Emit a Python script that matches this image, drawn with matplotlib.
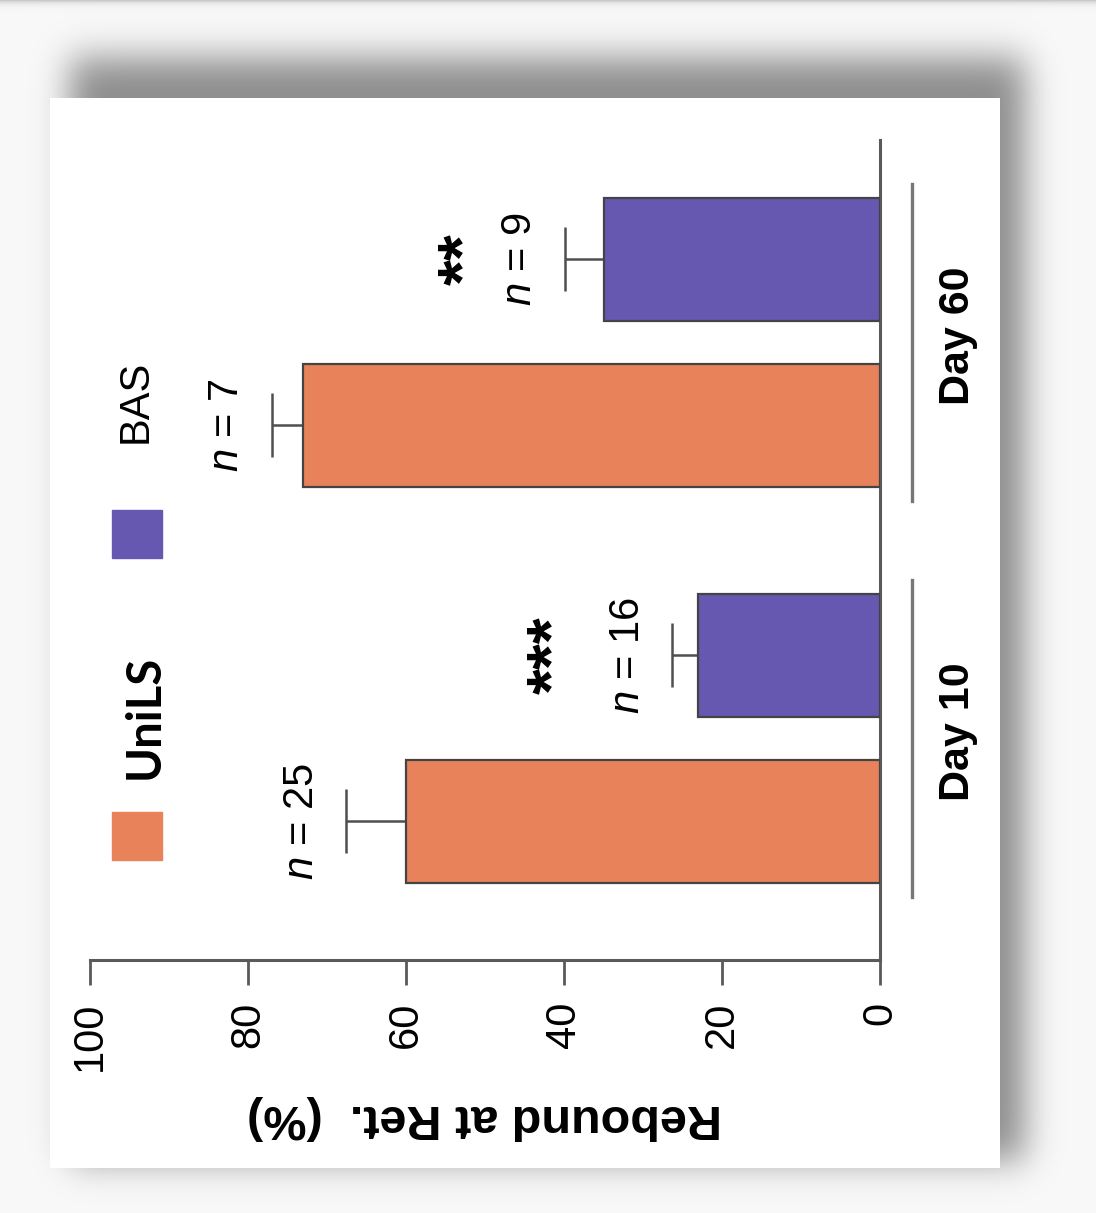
import math

import numpy as np
import matplotlib
matplotlib.use("Agg")
import matplotlib.pyplot as plt
from matplotlib.patches import Rectangle

plt.rcParams["font.family"] = ["Liberation Sans", "DejaVu Sans"]
plt.rcParams["mathtext.fontset"] = "custom"
plt.rcParams["mathtext.it"] = "Liberation Sans:italic"
plt.rcParams["mathtext.rm"] = "Liberation Sans"

# ------------------------------------------------------------------
# data: rebound at retrieval (%), mean + SEM, per time point
# ------------------------------------------------------------------
groups = ["Day 10", "Day 60"]
series = ["UniLS", "BAS"]
series_colors = ["#E8825A", "#6657B0"]

unils_pct = [60, 73]
unils_err = [7.6, 4.0]
unils_n = [25, 7]

bas_pct = [23, 35]
bas_err = [3.3, 4.9]
bas_n = [16, 9]
bas_sig = ["***", "**"]

xticks = [0, 20, 40, 60, 80, 100]

# ------------------------------------------------------------------
# layout helpers (figure is laid out in pixels)
# ------------------------------------------------------------------
W, H = 1096, 1213
GROUP_GAP = 3.22      # distance between time points (bar heights)
BAR_STEP = 1.35       # distance between the two bars of a time point


def fx(x):
    return x / W


def fy(y):
    return 1 - y / H


_erf = np.vectorize(math.erf)


def soft_band(t, a, b, s):
    """1-D box [a, b] blurred with a gaussian of width s."""
    k = s * np.sqrt(2)
    return 0.5 * (_erf((t - a) / k) - _erf((t - b) / k))


fig = plt.figure(figsize=(W / 100, H / 100), dpi=100)

# card with drop shadow behind the chart
xs = np.arange(W) + 0.5
ys = np.arange(H) + 0.5
shadow = soft_band(ys, 58, 1160, 18)[:, None] * soft_band(xs, 70, 1025, 17)[None, :]
img = 0.975 - 0.42 * shadow
img -= 0.22 * np.exp(-ys / 3.0)[:, None]
img[98:1168, 50:1000] = 1.0
rgb = np.clip(np.dstack([img, img, img]), 0, 1)

bg = fig.add_axes([0, 0, 1, 1], zorder=-1)
bg.imshow(rgb, extent=(0, W, H, 0), aspect="auto", interpolation="bilinear")
bg.set_xlim(0, W)
bg.set_ylim(H, 0)
bg.set_axis_off()

# ------------------------------------------------------------------
# main (rotated) bar chart
# ------------------------------------------------------------------
ax = fig.add_axes([fx(90), fy(960), fx(880) - fx(90), fy(140) - fy(960)])
ax.set_facecolor("none")

spine_c = "#5a5a5a"
base = np.arange(len(groups)) * GROUP_GAP
all_vals = [(unils_pct, unils_err, unils_n, ["", ""]),
            (bas_pct, bas_err, bas_n, bas_sig)]
sig_offset = [83.5, 70.6]

for j, (vals, errs, ns, sig) in enumerate(all_vals):
    pos = base + j * BAR_STEP
    ax.barh(pos, vals, height=1.0, color=series_colors[j], edgecolor="#444444",
            linewidth=1.6, zorder=3)
    ax.errorbar(vals, pos, xerr=[np.zeros(len(errs)), errs], fmt="none",
                ecolor="#4f4f4f", elinewidth=1.8, capsize=22.7, capthick=1.8,
                zorder=2)
    for k in range(len(vals)):
        top = vals[k] + errs[k]
        ax.annotate(f"$n$ = {ns[k]}", xy=(top, pos[k]), xytext=(-32, 0),
                    textcoords="offset points", rotation=90, ha="center",
                    va="center", fontsize=30)
        if sig[k]:
            ax.annotate(sig[k], xy=(top, pos[k]), xytext=(-sig_offset[k], 0),
                        textcoords="offset points", rotation=90, ha="center",
                        va="center", fontsize=48, fontweight="bold")

ax.set_xlim(100, 0)
ax.set_ylim(-1.13, 5.54)
ax.set_yticks([])
ax.set_xticks(xticks)
ax.set_xticklabels([str(t) for t in xticks])
ax.tick_params(axis="x", direction="out", length=18, width=2, color=spine_c,
               pad=12, labelsize=30, labelrotation=90)
for side in ["top", "left"]:
    ax.spines[side].set_visible(False)
for side in ["bottom", "right"]:
    ax.spines[side].set_color(spine_c)
    ax.spines[side].set_linewidth(2.2)

ax.set_xlabel("Rebound at Ret.  (%)", rotation=180, fontsize=35,
              fontweight="bold", labelpad=17)

# time-point brackets and labels
ytr = ax.get_yaxis_transform()
for g, label in enumerate(groups):
    c = base[g] + BAR_STEP / 2
    ax.plot([1.0405, 1.0405], [c - 1.29, c + 1.29], transform=ytr,
            clip_on=False, color="#777777", lw=2.4)
    ax.text(1.099, c + 0.05, label, transform=ytr, rotation=90, ha="center",
            va="center", fontsize=31, fontweight="bold")

# legend
fig.add_artist(Rectangle((fx(112), fy(860)), 50 / W, 48 / H,
                         transform=fig.transFigure, color=series_colors[0]))
fig.add_artist(Rectangle((fx(112), fy(558)), 50 / W, 48 / H,
                         transform=fig.transFigure, color=series_colors[1]))
fig.text(fx(145), fy(717), series[0], rotation=90, ha="center", va="center",
         fontsize=34, fontweight="bold", family=["Lato", "DejaVu Sans"])
fig.text(fx(136), fy(401), series[1], rotation=90, ha="center", va="center",
         fontsize=30)

fig.savefig("out.png", dpi=100)
